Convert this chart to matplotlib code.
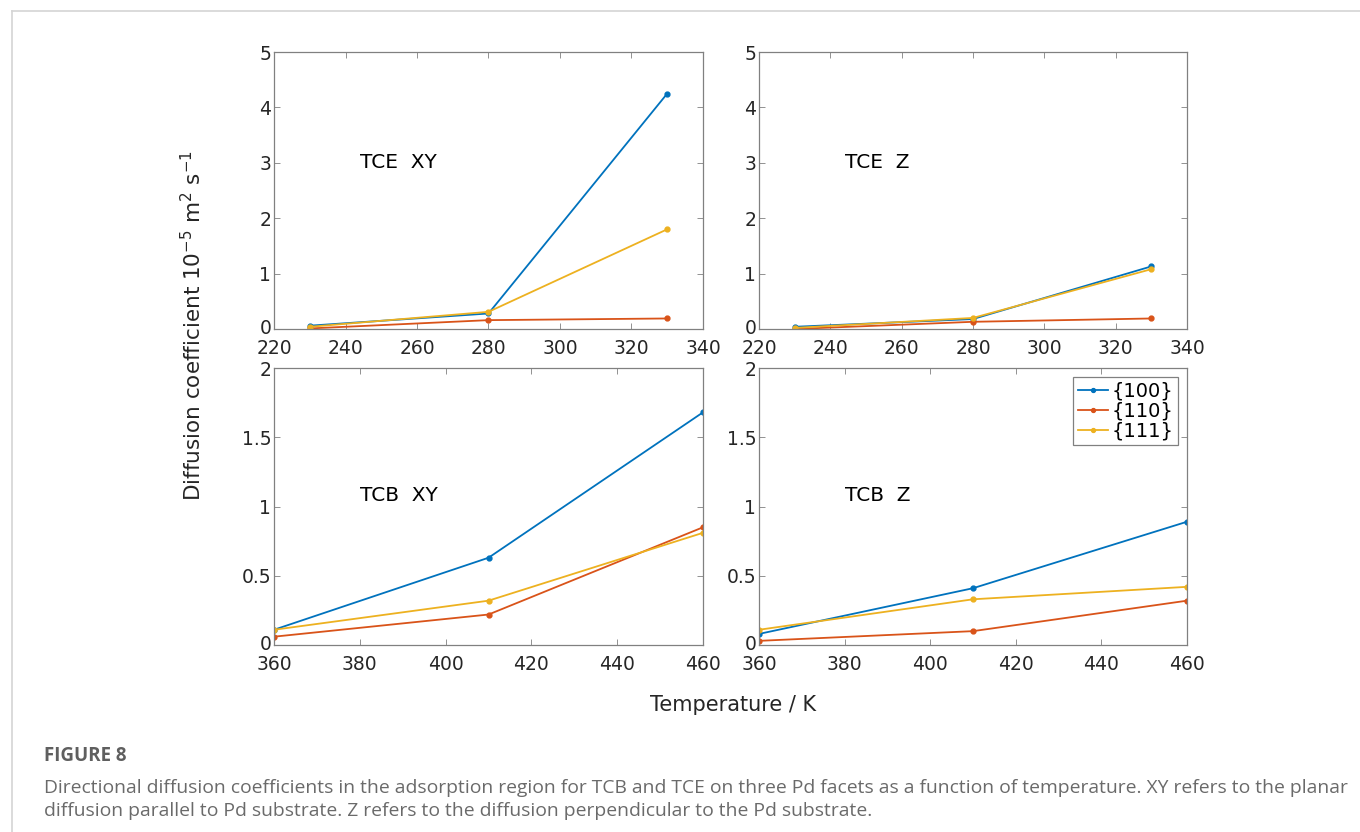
import numpy as np
import matplotlib.pyplot as plt
import matplotlib.transforms as mtransforms
from matplotlib.lines import Line2D

# temperatures (K)
temp_tce = [230, 280, 330]
temp_tcb = [360, 410, 460]

facets = ["{100}", "{110}", "{111}"]
colors = ["#0072BD", "#D95319", "#EDB120"]

# diffusion coefficients, 10^-5 m^2 s^-1
tce_xy = {"{100}": [0.06, 0.28, 4.25], "{110}": [0.01, 0.16, 0.19], "{111}": [0.04, 0.31, 1.80]}
tce_z = {"{100}": [0.04, 0.18, 1.13], "{110}": [0.00, 0.13, 0.19], "{111}": [0.02, 0.20, 1.08]}
tcb_xy = {"{100}": [0.11, 0.63, 1.68], "{110}": [0.06, 0.22, 0.85], "{111}": [0.11, 0.32, 0.81]}
tcb_z = {"{100}": [0.08, 0.41, 0.89], "{110}": [0.03, 0.10, 0.32], "{111}": [0.11, 0.33, 0.42]}

W, H = 1360, 832
fig = plt.figure(figsize=(W / 100, H / 100), dpi=100)

def px_axes(x0, y0, x1, y1):
    return fig.add_axes([x0 / W, 1 - y1 / H, (x1 - x0) / W, (y1 - y0) / H])

panels = [
    (px_axes(274, 52, 703, 329), temp_tce, tce_xy, "TCE  XY", (220, 340), (0, 5), np.arange(0, 6, 1), (244, 3.0)),
    (px_axes(759, 52, 1187, 329), temp_tce, tce_z, "TCE  Z", (220, 340), (0, 5), np.arange(0, 6, 1), (244, 3.0)),
    (px_axes(274, 368, 703, 645), temp_tcb, tcb_xy, "TCB  XY", (360, 460), (0, 2), np.arange(0, 2.01, 0.5), (380, 1.08)),
    (px_axes(759, 368, 1187, 645), temp_tcb, tcb_z, "TCB  Z", (360, 460), (0, 2), np.arange(0, 2.01, 0.5), (380, 1.08)),
]

axis_col = "#262626"
for ax, t, data, label, xl, yl, yt, tpos in panels:
    for f, c in zip(facets, colors):
        ax.plot(t, data[f], color=c, lw=1.3, marker=".", ms=7, label=f)
    ax.set_xlim(*xl)
    ax.set_ylim(*yl)
    ax.set_yticks(yt)
    ax.set_yticklabels([f"{v:g}" for v in yt])
    ax.set_xticks(np.arange(xl[0], xl[1] + 1, 20))
    ax.tick_params(direction="in", top=True, right=True, length=4, width=0.6,
                   labelsize=13.5, colors="#808080", labelcolor=axis_col)
    ax.tick_params(axis="x", pad=7)
    ax.tick_params(axis="y", pad=2)
    for s in ax.spines.values():
        s.set_color("#808080")
        s.set_linewidth(0.9)
    # nudge the "0" label up a little so it clears the x tick labels
    lab0 = ax.get_yticklabels()[0]
    lab0.set_transform(lab0.get_transform() + mtransforms.ScaledTranslation(0, 3 / 100, fig.dpi_scale_trans))
    ax.text(tpos[0], tpos[1], label, fontsize=14.5, va="center", ha="left", color="black")

leg = panels[3][0].legend(loc="upper right", fontsize=14, handlelength=1.5, handletextpad=0.2,
                          borderpad=0.25, labelspacing=0.05, fancybox=False, framealpha=1,
                          borderaxespad=0.45, markerscale=0.8)
leg.get_frame().set_edgecolor("#808080")
leg.get_frame().set_linewidth(0.9)

fig.text(193 / W, 1 - 326 / H, r"Diffusion coefficient 10$^{-5}$ m$^{2}$ s$^{-1}$", rotation=90,
         ha="center", va="center", fontsize=15.5, color=axis_col)
fig.text(733 / W, 1 - 705 / H, "Temperature / K", ha="center", va="center", fontsize=15, color=axis_col)

# page frame lines
fig.add_artist(Line2D([12 / W, 12 / W], [0, 1 - 11 / H], color="#d4d4d4", lw=1.2))
fig.add_artist(Line2D([12 / W, 1], [1 - 11 / H, 1 - 11 / H], color="#d4d4d4", lw=1.2))

cap_font = ["Open Sans", "DejaVu Sans"]
fig.text(44 / W, 1 - 756 / H, "FIGURE 8", family=cap_font, fontsize=13.5, fontweight="bold",
         color="#5f5f5f", va="center", ha="left")
fig.text(44 / W, 1 - 788 / H,
         "Directional diffusion coefficients in the adsorption region for TCB and TCE on three Pd facets as a function of temperature. XY refers to the planar",
         family=cap_font, fontsize=13.9, color="#6a6a6a", va="center", ha="left")
fig.text(44 / W, 1 - 811 / H,
         "diffusion parallel to Pd substrate. Z refers to the diffusion perpendicular to the Pd substrate.",
         family=cap_font, fontsize=13.9, color="#6a6a6a", va="center", ha="left")

fig.savefig("out.png", dpi=100)
